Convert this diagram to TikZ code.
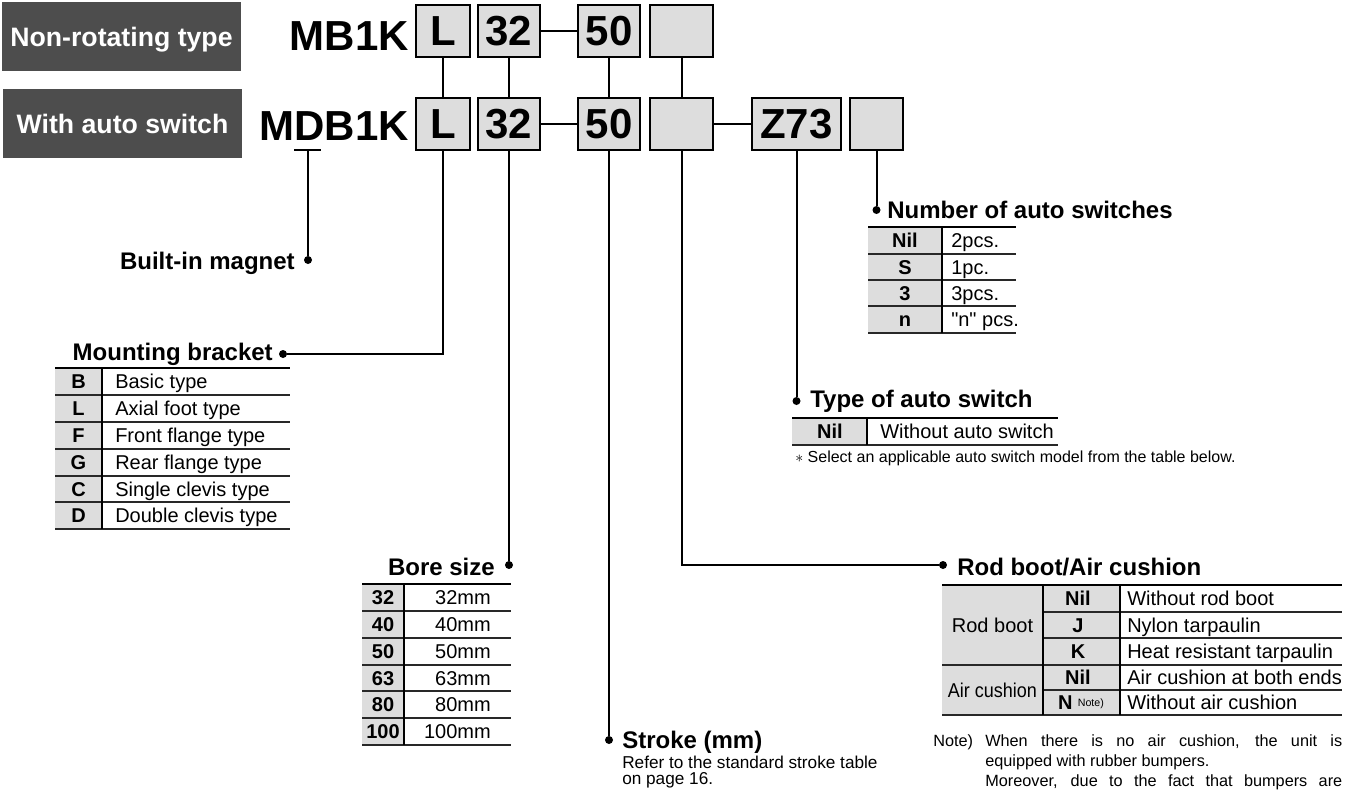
\documentclass[tikz,border=0pt]{standalone}
\usepackage{fontspec}
\setmainfont{Liberation Sans}
\definecolor{darkbg}{RGB}{77,77,77}
\definecolor{boxfill}{RGB}{221,221,221}
\definecolor{ruleg}{RGB}{40,40,40}
\newcommand\fzCode{\fontsize{31.5}{36}\selectfont\bfseries}
\newcommand\fzDark{\fontsize{20}{24}\selectfont\bfseries}
\newcommand\fzHead{\fontsize{18}{21}\selectfont\bfseries}
\newcommand\fzTab{\fontsize{15}{18}\selectfont}
\newcommand\fzSmall{\fontsize{12.9}{15}\selectfont}
\newcommand\fzSel{\fontsize{12}{14}\selectfont}
\newcommand\fzNote{\fontsize{12.2}{14}\selectfont}
\begin{document}
\begin{tikzpicture}[x=0.75pt,y=-0.75pt,
  darkbox/.style={fill=darkbg, text=white, font=\fzDark, inner sep=0, text height=14.3pt, text depth=0pt},
  codebox/.style={draw=black, line width=1.9pt, fill=boxfill, font=\fzCode, inner sep=0, minimum height=39pt},
  codetxt/.style={font=\fzCode, anchor=base east, inner sep=0},
  conn/.style={line width=1.5pt},
  dot/.style={circle, fill=black, inner sep=0, minimum size=6pt},
  head/.style={font=\fzHead, inner sep=0},
  cell/.style={font=\fzTab, inner sep=0, anchor=base west},
  keycell/.style={font=\fzTab\bfseries, inner sep=0, anchor=base},
  thickrule/.style={line width=2.2pt},
  thinrule/.style={line width=0.9pt, draw=ruleg},
  colrule/.style={line width=1.1pt},
  smalltxt/.style={font=\fzSmall, inner sep=0, anchor=base west},
  notetxt/.style={font=\fzNote, inner sep=0, anchor=base west}]
\useasboundingbox (0,0) rectangle (1356,789);

% title boxes
\node[darkbox, minimum width=179.25pt, minimum height=51.75pt] (nrt) at (121.5,36.5) {Non-rotating type};
\node[darkbox, minimum width=179.25pt, minimum height=51.75pt] (was) at (122.5,123.5) {With auto switch};

% codes
\node[codetxt] (mb) at (409,50) {MB1K};
\node[codetxt] (mdb) at (409,140) {MDB1K};

% row 1 boxes
\node[codebox, minimum width=40.5pt] (a1) at (443,31) {L};
\node[codebox, minimum width=46.5pt] (b1) at (509,31) {32};
\node[codebox, minimum width=46.5pt] (c1) at (609,31) {50};
\node[codebox, minimum width=47.25pt] (d1) at (681.5,31) {};
% row 2 boxes
\node[codebox, minimum width=40.5pt] (a2) at (443,124) {L};
\node[codebox, minimum width=46.5pt] (b2) at (509,124) {32};
\node[codebox, minimum width=46.5pt] (c2) at (609,124) {50};
\node[codebox, minimum width=47.25pt] (d2) at (681.5,124) {};
\node[codebox, minimum width=66.75pt] (z2) at (796.5,124) {Z73};
\node[codebox, minimum width=39.75pt] (e2) at (876.5,124) {};

% connectors between boxes
\draw[conn] (a1.south) -- (a2.north);
\draw[conn] (b1.south) -- (b2.north);
\draw[conn] (c1.south) -- (c2.north);
\draw[conn] (d1.south) -- (d2.north);
\draw[conn] (b1.east) -- (c1.west);
\draw[conn] (b2.east) -- (c2.west);
\draw[conn] (d2.east) -- (z2.west);

% leaders
\coordinate (tL) at (294,150);
\coordinate (tR) at (321,150);
\coordinate (tM) at (308,150);
\node[dot] (dMag) at (308,260) {};
\draw[conn] (tL) -- (tR);
\draw[conn] (tM) -- (dMag);
\node[dot] (dMnt) at (283,354) {};
\draw[conn] (a2.south) |- (dMnt);
\node[dot] (dBore) at (509,565) {};
\draw[conn] (b2.south) -- (dBore);
\node[dot] (dStr) at (609,740) {};
\draw[conn] (c2.south) -- (dStr);
\node[dot] (dRod) at (943,565) {};
\draw[conn] (d2.south) |- (dRod);
\node[dot] (dType) at (796.5,401) {};
\draw[conn] (z2.south) -- (dType);
\node[dot] (dNum) at (876.5,210) {};
\draw[conn] (e2.south) -- (dNum);

% headings
\node[head, anchor=base east] (hMag) at (295,269) {Built-in magnet};
\node[head, anchor=base east] (hMnt) at (273,360) {Mounting bracket};
\node[head, anchor=base east] (hBore) at (495,575) {Bore size};
\node[head, anchor=base west] (hStr) at (622,748) {Stroke (mm)};
\node[head, anchor=base west] (hRod) at (957,575) {Rod boot/Air cushion};
\node[head, anchor=base west] (hType) at (810,407) {Type of auto switch};
\node[head, anchor=base west] (hNum) at (887,218) {Number of auto switches};

% mounting bracket table
\fill[boxfill] (55,368) rectangle (102,529);
\foreach \y in {395,422,449,476,502,529} \draw[thinrule] (55,\y) -- (290,\y);
\draw[colrule] (102,368) -- (102,529);
\draw[thickrule] (55,368) -- (290,368);
\foreach \k/\v/\y [count=\i] in {B/Basic type/388.7, L/Axial foot type/415.7, F/Front flange type/442.7, G/Rear flange type/469.7, C/Single clevis type/496.2, D/Double clevis type/522.7}{
  \node[keycell] (mk\i) at (78.5,\y) {\k};
  \node[cell] (mv\i) at (115,\y) {\v};
}

% bore size table
\fill[boxfill] (362,584) rectangle (404,745);
\foreach \y in {611,638,665,691,718,745} \draw[thinrule] (362,\y) -- (511,\y);
\draw[colrule] (404,584) -- (404,745);
\draw[thickrule] (362,584) -- (511,584);
\foreach \k/\y [count=\i] in {32/604.7, 40/631.7, 50/658.7, 63/685.2, 80/711.7, 100/738.7}{
  \node[keycell] (bk\i) at (383,\y) {\k};
  \node[cell, anchor=base east] (bv\i) at (491,\y) {\k mm};
}

% stroke text
\node[smalltxt] (s1) at (622,768) {Refer to the standard stroke table};
\node[smalltxt] (s2) at (622,784) {on page 16.};

% rod boot / air cushion table
\fill[boxfill] (942,585) rectangle (1120,715);
\draw[thinrule] (1043,612) -- (1342,612);
\draw[thinrule] (1043,638) -- (1342,638);
\draw[thinrule] (942,665) -- (1342,665);
\draw[thinrule] (1043,690) -- (1342,690);
\draw[thinrule] (942,715) -- (1342,715);
\draw[colrule] (1043,585) -- (1043,715);
\draw[colrule] (1120,585) -- (1120,715);
\draw[thickrule] (942,585) -- (1342,585);
\node[cell, anchor=base] (rg1) at (992.5,632.2) {Rod boot};
\node[cell, anchor=base] (rg2) at (992.5,697.2) {\scalebox{0.9}[1]{Air cushion}};
\node[keycell] (rk1) at (1078,605.7) {Nil};
\node[keycell] (rk2) at (1078,632.2) {J};
\node[keycell] (rk3) at (1078,658.7) {K};
\node[keycell] (rk4) at (1078,684.7) {Nil};
\node[keycell] (rk5) at (1081,709.7) {N\hspace{4pt}\raisebox{2.5pt}{\fontsize{8}{9}\selectfont\mdseries Note)}};
\node[cell] (rv1) at (1127,605.7) {Without rod boot};
\node[cell] (rv2) at (1127,632.2) {Nylon tarpaulin};
\node[cell] (rv3) at (1127,658.7) {Heat resistant tarpaulin};
\node[cell] (rv4) at (1127,684.7) {Air cushion at both ends};
\node[cell] (rv5) at (1127,709.7) {Without air cushion};

% note
\node[notetxt] (nL) at (933,746) {Note)};
\node[notetxt] (n1) at (985,746) {\makebox[267.75pt][s]{When there is no air cushion, the unit is}};
\node[notetxt] (n2) at (985,766) {equipped with rubber bumpers.};
\node[notetxt] (n3) at (985,786) {\makebox[267.75pt][s]{Moreover, due to the fact that bumpers are}};

% type of auto switch table
\fill[boxfill] (792,418) rectangle (867,445);
\draw[thinrule] (792,445) -- (1058,445);
\draw[colrule] (867,418) -- (867,445);
\draw[thickrule] (792,418) -- (1058,418);
\node[keycell] (tk1) at (830,438.7) {Nil};
\node[cell] (tv1) at (880,438.7) {Without auto switch};
\node[font=\fzSel, inner sep=0, anchor=base west] (tnote) at (795,462) {$\ast$ Select an applicable auto switch model from the table below.};

% number of auto switches table
\fill[boxfill] (868,227) rectangle (942,333);
\foreach \y in {254,280,306,333} \draw[thinrule] (868,\y) -- (1016,\y);
\draw[colrule] (942,227) -- (942,333);
\draw[thickrule] (868,227) -- (1016,227);
\foreach \k/\v/\y [count=\i] in {Nil/2pcs./247.7, S/1pc./274.2, 3/3pcs./300.2, n/\textquotedbl n\textquotedbl\ pcs./326.7}{
  \node[keycell] (nk\i) at (905,\y) {\k};
  \node[cell] (nv\i) at (951,\y) {\v};
}
\end{tikzpicture}
\end{document}
